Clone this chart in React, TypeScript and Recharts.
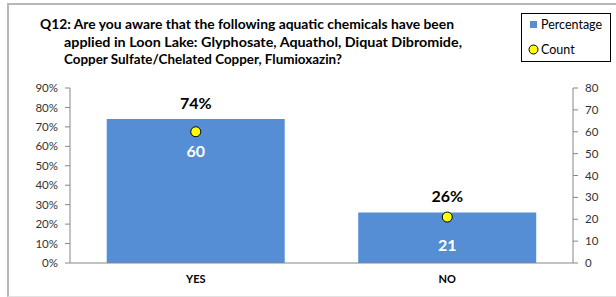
import {
  Bar,
  ComposedChart,
  LabelList,
  Line,
  XAxis,
  YAxis,
} from "recharts";

// 設問の回答データ
const categories = ["YES", "NO"];
const percentages = [0.74, 0.26];
const counts = [60, 21];
const percentTicks = [0, 0.1, 0.2, 0.3, 0.4, 0.5, 0.6, 0.7, 0.8, 0.9];
const countTicks = [0, 10, 20, 30, 40, 50, 60, 70, 80];
const titleLines = [
  "Q12: Are you aware that the following aquatic chemicals have been",
  "applied in Loon Lake: Glyphosate, Aquathol, Diquat Dibromide,",
  "Copper Sulfate/Chelated Copper, Flumioxazin?",
];

const FONT = "Lato, 'Liberation Sans', sans-serif";
const COLOR_BAR = "#558ED5";
const COLOR_AXIS = "#868686";
const COLOR_TICK = "#333333";

const data = categories.map((c, i) => ({
  category: c,
  percentage: percentages[i],
  count: counts[i],
}));

// タイトル各行の位置と幅（Excel の Calibri に合わせて textLength で調整）
const titleLayout = [
  { x: 40, y: 29, w: 414 },
  { x: 64, y: 46.5, w: 398 },
  { x: 64, y: 64, w: 278 },
];

const tickStyle = { fontSize: 11.5, fill: COLOR_TICK, fontFamily: FONT };

export default function App() {
  return (
    <div
      style={{
        position: "absolute",
        left: 0,
        top: 0,
        width: 616,
        height: 297,
        overflow: "hidden",
        background: "#fff",
        fontFamily: FONT,
      }}
    >
      <div
        style={{
          position: "absolute",
          left: 7,
          top: 3,
          width: 640,
          height: 291,
          borderTop: "2px solid #b8b8b8",
          borderLeft: "2px solid #b8b8b8",
          borderBottom: "1px solid #e2e2e2",
        }}
      />
      <div style={{ position: "absolute", left: 0, top: 0 }}>
        <ComposedChart
          width={616}
          height={297}
          data={data}
          margin={{ top: 88, right: 0, left: 0, bottom: 0 }}
          barCategoryGap="14.6%"
        >
          <XAxis
            dataKey="category"
            height={34}
            axisLine={{ stroke: COLOR_AXIS }}
            tickLine={false}
            tickSize={10}
            tickMargin={2}
            tick={{ fontSize: 11, fill: "#000", fontWeight: 700, fontFamily: FONT }}
          />
          <YAxis
            yAxisId="left"
            width={70}
            domain={[0, 0.9]}
            ticks={percentTicks}
            tickFormatter={(v) => `${Math.round(v * 100)}%`}
            axisLine={{ stroke: COLOR_AXIS }}
            tickLine={{ stroke: COLOR_AXIS }}
            tickSize={5}
            tickMargin={7}
            tick={tickStyle}
          />
          <YAxis
            yAxisId="right"
            orientation="right"
            width={43}
            domain={[0, 80]}
            ticks={countTicks}
            axisLine={{ stroke: COLOR_AXIS }}
            tickLine={{ stroke: COLOR_AXIS }}
            tickSize={5}
            tickMargin={7}
            tick={tickStyle}
          />
          <Bar
            yAxisId="left"
            dataKey="percentage"
            fill={COLOR_BAR}
            isAnimationActive={false}
          >
            <LabelList
              dataKey="percentage"
              position="top"
              offset={10}
              formatter={(v: number) => `${Math.round(v * 100)}%`}
              style={{ fontSize: 16, fontWeight: 700, fill: "#000", fontFamily: FONT }}
            />
            <LabelList
              dataKey="count"
              position="insideTop"
              offset={27}
              style={{ fontSize: 16, fontWeight: 700, fill: "#fff", fontFamily: FONT }}
            />
          </Bar>
          <Line
            yAxisId="right"
            dataKey="count"
            stroke="none"
            isAnimationActive={false}
            dot={{ r: 5, fill: "#FFFF00", stroke: "#000", strokeWidth: 1 }}
            activeDot={false}
          />
        </ComposedChart>
      </div>
      <svg
        width={616}
        height={297}
        style={{ position: "absolute", left: 0, top: 0, pointerEvents: "none" }}
      >
        {titleLines.map((line, i) => (
          <text
            key={i}
            x={titleLayout[i].x}
            y={titleLayout[i].y}
            textLength={titleLayout[i].w}
            lengthAdjust="spacingAndGlyphs"
            fontSize={14}
            fontWeight={700}
            fontFamily={FONT}
            fill="#000"
          >
            {line}
          </text>
        ))}
        <rect x={521.5} y={13.5} width={89} height={48} fill="#fff" stroke="#000" strokeWidth={1} />
        <rect x={530} y={21} width={7} height={7} fill={COLOR_BAR} />
        <text x={541} y={29} fontSize={12.5} fontFamily={FONT} fill="#000">
          Percentage
        </text>
        <circle cx={533.5} cy={49.5} r={4.5} fill="#FFFF00" stroke="#000" strokeWidth={1} />
        <text x={541} y={54} fontSize={12.5} fontFamily={FONT} fill="#000">
          Count
        </text>
      </svg>
    </div>
  );
}
